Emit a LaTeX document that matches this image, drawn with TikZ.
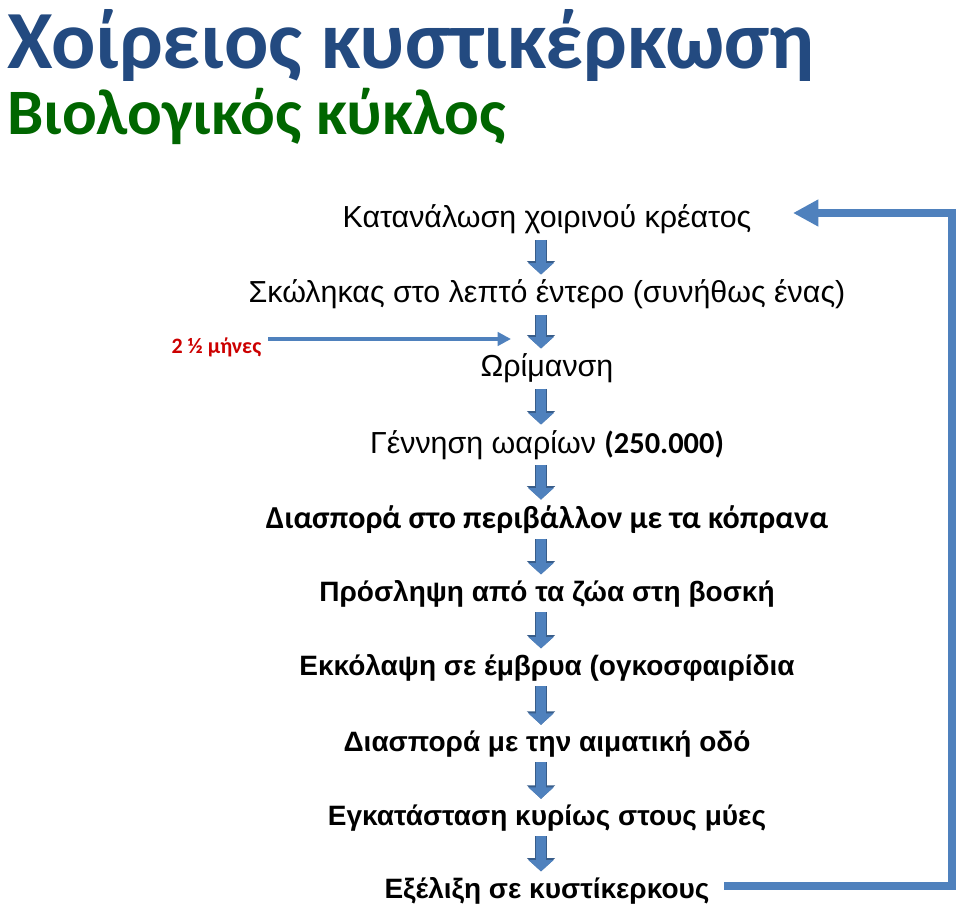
\documentclass[tikz,border=0pt]{standalone}
\usepackage{fontspec}
\setmainfont{Liberation Sans}
\newfontfamily\calfont{Carlito}
\usetikzlibrary{arrows.meta}
\definecolor{titleblue}{RGB}{35,74,128}
\definecolor{titlegreen}{RGB}{0,102,0}
\definecolor{flowblue}{RGB}{79,129,189}
\definecolor{flowedge}{RGB}{56,93,138}
\definecolor{labelred}{RGB}{204,0,0}
\begin{document}
\begin{tikzpicture}[
        x=0.75pt, y=-0.75pt,  % pixel grid, y downwards
        >=latex,              % Arrow style
        every node/.style={inner sep=1pt, anchor=base},
        stage/.style={font=\fontsize{22.8}{26}\selectfont},
        boldstage/.style={font=\fontsize{21}{25}\selectfont\bfseries},
        downarrow/.style={line width=7pt, flowblue,
            -{Triangle[width=18.5pt, length=8.5pt]},
            preaction={draw, flowedge, line width=8.5pt,
                -{Triangle[width=20.5pt, length=10pt]}}},
        monthsarrow/.style={line width=3.5pt, flowblue,
            -{Triangle[width=10pt, length=10pt]}},
        backarrow/.style={line width=6pt, flowblue,
            -{Triangle[width=19pt, length=19pt]}}
    ]
    \useasboundingbox (0,0) rectangle (960,905);
    % Titles
    \node[anchor=base west, titleblue, font=\calfont\bfseries\fontsize{62}{68}\selectfont] (title) at (6,69) {Χοίρειος κυστικέρκωση};
    \node[anchor=base west, titlegreen, font=\calfont\bfseries\fontsize{48.6}{54}\selectfont] (subtitle) at (6,135) {Βιολογικός κύκλος};

    % Stages of the cycle
    \node[stage] (eat) at (547,228) {Κατανάλωση χοιρινού κρέατος};
    \node[stage] (worm) at (547,303) {Σκώληκας στο λεπτό έντερο (συνήθως ένας)};
    \node[stage] (mature) at (547,377) {Ωρίμανση};
    \node[stage] (eggs) at (547,453) {Γέννηση ωαρίων {\calfont\bfseries(250.000)}};
    \node[stage, font=\calfont\bfseries\fontsize{24}{28}\selectfont] (spread) at (547,528) {Διασπορά στο περιβάλλον με τα κόπρανα};
    \node[boldstage] (intake) at (547,601) {Πρόσληψη από τα ζώα στη βοσκή};
    \node[boldstage] (hatch) at (547,675) {Εκκόλαψη σε έμβρυα (ογκοσφαιρίδια};
    \node[boldstage] (blood) at (547,751) {Διασπορά με την αιματική οδό};
    \node[boldstage] (muscle) at (547,825) {Εγκατάσταση κυρίως στους μύες};
    \node[boldstage] (cyst) at (547,898) {Εξέλιξη σε κυστίκερκους};

    % Time label
    \node[anchor=base west, labelred, font=\calfont\bfseries\fontsize{16.5}{20}\selectfont] (months) at (170,354) {2 ½ μήνες};
    \coordinate (mtip) at (511,339);
    \coordinate (rb) at (952,886);
    \coordinate (rt) at (952,213);

    % Block arrows between the stages
    \foreach \a/\b in {eat/worm, worm/mature, mature/eggs, eggs/spread, spread/intake,
                       intake/hatch, hatch/blood, blood/muscle, muscle/cyst}
        \draw[downarrow, shorten <=3pt, shorten >=3pt] ([xshift=-4.5pt]\a.south) -- ([xshift=-4.5pt]\b.north);

    % Duration arrow and return arrow
    \draw[monthsarrow, shorten <=4pt] (months.east |- mtip) -- (mtip);
    \draw[backarrow, shorten <=10pt, shorten >=30pt] (cyst.east |- rb) -- (rb) -- (rt) -- (eat.east |- rt);

\end{tikzpicture}
\end{document}
